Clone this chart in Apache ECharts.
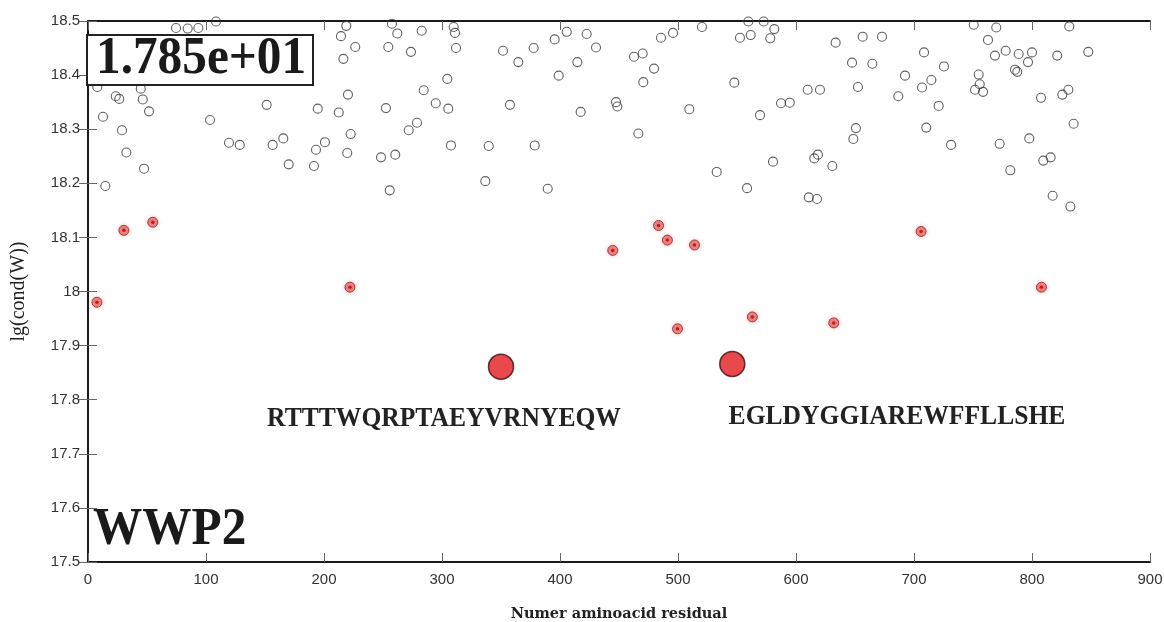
<!DOCTYPE html>
<html>
<head>
<meta charset="utf-8">
<script src="https://cdn.jsdelivr.net/npm/echarts@6/dist/echarts.min.js"></script>
<style>html,body{margin:0;padding:0;background:#fff}#c{width:1164px;height:622px}</style>
</head>
<body>
<div id="c"></div>
<script>
// Open circles: [residue, lg(cond(W))]
const openPoints = [
[7.9,18.378],[23.5,18.361],[26.5,18.356],[44.7,18.375],[46.4,18.355],[51.7,18.333],[12.7,18.323],[28.8,18.298],
[32.5,18.257],[47.5,18.227],[14.7,18.195],[74.6,18.487],[84.5,18.486],[93.5,18.487],[108.5,18.499],[103.4,18.317],
[119.5,18.275],[128.6,18.271],[151.4,18.345],[156.5,18.271],[165.5,18.283],[170.1,18.235],[191.5,18.232],[193.2,18.262],
[200.8,18.276],[194.7,18.338],[212.5,18.331],[220.3,18.364],[218.9,18.491],[214.4,18.472],[226.5,18.452],[216.4,18.430],
[222.6,18.291],[219.7,18.256],[248.3,18.248],[260.4,18.253],[255.7,18.187],[252.5,18.339],[254.5,18.452],[257.6,18.495],
[262.1,18.477],[273.7,18.443],[282.8,18.482],[309.9,18.489],[311.0,18.478],[311.9,18.450],[304.5,18.393],[284.5,18.372],
[294.7,18.348],[305.3,18.338],[278.8,18.312],[271.8,18.298],[307.6,18.270],[351.7,18.445],[364.7,18.424],[377.7,18.450],
[395.5,18.466],[405.7,18.480],[422.6,18.476],[430.5,18.451],[414.7,18.424],[398.9,18.399],[357.6,18.345],[339.6,18.269],
[336.7,18.204],[378.6,18.270],[389.6,18.190],[417.5,18.332],[447.5,18.350],[448.6,18.342],[462.7,18.434],[470.1,18.440],
[479.7,18.412],[470.6,18.387],[466.4,18.292],[485.6,18.469],[495.8,18.478],[520.3,18.489],[509.6,18.337],[532.8,18.221],
[547.7,18.386],[552.5,18.469],[559.6,18.499],[561.6,18.474],[572.6,18.499],[581.6,18.485],[578.2,18.468],[569.5,18.326],
[580.5,18.240],[558.5,18.191],[587.3,18.348],[594.7,18.349],[609.9,18.373],[620.3,18.373],[633.6,18.460],[647.5,18.423],
[652.5,18.378],[656.5,18.471],[664.7,18.421],[672.9,18.471],[650.8,18.302],[648.6,18.282],[615.5,18.246],[618.6,18.253],
[630.8,18.232],[610.8,18.174],[617.8,18.171],[686.7,18.361],[692.4,18.399],[706.8,18.377],[714.7,18.391],[708.5,18.442],
[725.4,18.416],[720.9,18.343],[710.4,18.303],[731.4,18.271],[750.6,18.493],[769.7,18.488],[762.7,18.465],[768.6,18.436],
[777.7,18.445],[788.7,18.439],[800.0,18.442],[796.6,18.424],[754.8,18.401],[755.7,18.383],[751.7,18.373],[758.5,18.369],
[785.6,18.410],[787.5,18.406],[772.6,18.273],[781.6,18.224],[797.7,18.283],[807.6,18.358],[821.4,18.436],[831.6,18.490],
[847.7,18.443],[825.7,18.364],[830.8,18.373],[835.3,18.310],[809.6,18.242],[815.8,18.248],[817.5,18.177],[832.5,18.157]
];
// Small red highlighted points
const redPoints = [
[7.6,17.980],[30.4,18.113],[54.9,18.128],[222,18.008],[444.7,18.076],[483.5,18.122],[491,18.095],[514,18.086],
[499.6,17.931],[563,17.953],[632,17.942],[706,18.111],[808,18.008]
];
// Large red points (peptide minima)
const bigPoints = [[350,17.861],[546,17.866]];
const peptideLabels = ['RTTTWQRPTAEYVRNYEQW','EGLDYGGIAREWFFLLSHE'];
const xTicks = {min:0, max:900, interval:100};
const yTicks = {min:17.5, max:18.5, interval:0.1};
const condLabel = '1.785e+01';
const proteinLabel = 'WWP2';
const xName = 'Numer aminoacid residual';
const yName = 'lg(cond(W))';

const chart = echarts.init(document.getElementById('c'), null, {renderer:'canvas'});
const axisLine = {show:true, lineStyle:{color:'#1a1a1a', width:2}};
const tick = {show:true, inside:true, length:9, lineStyle:{color:'#666', width:1}};
const lblFont = {color:'#333', fontFamily:'Liberation Sans, Arial, sans-serif', fontSize:15};
const serif = 'Liberation Serif, Times New Roman, serif';

chart.setOption({
  animation:false,
  backgroundColor:'#fff',
  grid:{left:88, right:14, top:21, bottom:60, containLabel:false, outerBoundsMode:'none'},
  xAxis:[
    {type:'value', min:xTicks.min, max:xTicks.max, interval:xTicks.interval, position:'bottom',
     axisLine, axisTick:tick, splitLine:{show:false},
     axisLabel:Object.assign({margin:10}, lblFont),
     name:xName, nameLocation:'middle', nameGap:45,
     nameTextStyle:{fontFamily:'DejaVu Serif, serif', fontWeight:'bold', fontSize:14.5, color:'#222'}},
    {type:'value', min:xTicks.min, max:xTicks.max, interval:xTicks.interval, position:'top',
     axisLine, axisTick:tick, axisLabel:{show:false}, splitLine:{show:false}}
  ],
  yAxis:[
    {type:'value', min:yTicks.min, max:yTicks.max, interval:yTicks.interval, position:'left',
     axisLine, axisTick:tick, splitLine:{show:false},
     axisLabel:Object.assign({margin:8, formatter:v=>String(Number(v.toFixed(1)))}, lblFont),
     name:yName, nameLocation:'middle', nameGap:59,
     nameTextStyle:{fontFamily:serif, fontSize:20, color:'#222'}},
    {type:'value', min:yTicks.min, max:yTicks.max, interval:yTicks.interval, position:'right',
     axisLine, axisTick:tick, axisLabel:{show:false}, splitLine:{show:false}}
  ],
  series:[
    {type:'scatter', data:openPoints, symbol:'circle', symbolSize:9,
     itemStyle:{color:'rgba(255,255,255,0)', borderColor:'#3a3a3a', borderWidth:1.1}, z:2},
    {type:'scatter', data:redPoints, symbol:'circle', symbolSize:10,
     itemStyle:{color:'#e86a6a', borderColor:'#8e2020', borderWidth:1, shadowBlur:4, shadowColor:'rgba(220,120,120,0.5)'}, z:3},
    {type:'scatter', data:redPoints, symbol:'circle', symbolSize:3.5,
     itemStyle:{color:'#c00000'}, z:4},
    {type:'scatter', data:bigPoints, symbol:'circle', symbolSize:25,
     itemStyle:{color:'#e31b1f', borderColor:'#3a0a0a', borderWidth:1.5}, z:5}
  ],
  graphic:[
    {type:'rect', x:87, y:35, shape:{width:226, height:50}, z:100,
     style:{fill:'#fff', stroke:'#222', lineWidth:2}},
    {type:'text', x:96, y:33, scaleX:0.93, z:101,
     style:{text:condLabel, font:'bold 53px '+serif, fill:'#1a1a1a', align:'left', verticalAlign:'top'}},
    {type:'text', x:93, y:504, scaleX:0.93, z:101,
     style:{text:proteinLabel, font:'bold 53px '+serif, fill:'#1a1a1a', align:'left', verticalAlign:'top'}},
    {type:'text', x:444, y:419, scaleX:0.93, z:101,
     style:{text:peptideLabels[0], font:'bold 27.5px '+serif, fill:'#222', align:'center', verticalAlign:'middle'}},
    {type:'text', x:897, y:417, scaleX:0.93, z:101,
     style:{text:peptideLabels[1], font:'bold 27.5px '+serif, fill:'#222', align:'center', verticalAlign:'middle'}}
  ]
});
</script>
</body>
</html>
